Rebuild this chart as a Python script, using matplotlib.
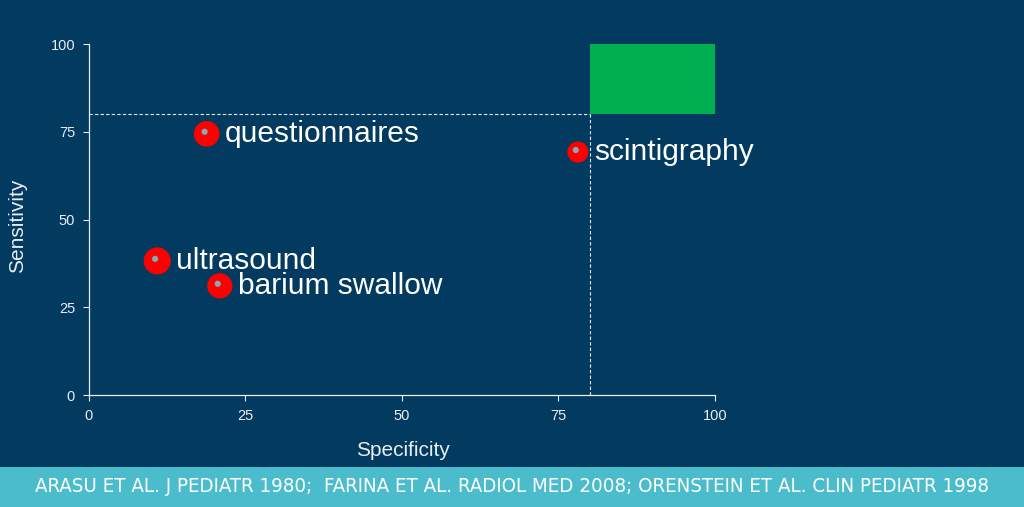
import matplotlib.pyplot as plt
import matplotlib.transforms as mtransforms
from matplotlib.patches import Rectangle

plt.rcParams['font.family'] = ['Liberation Sans', 'DejaVu Sans']

# data
tests = ['questionnaires', 'scintigraphy', 'ultrasound', 'barium swallow']
specificity = [18.8, 78.1, 10.9, 20.9]
sensitivity = [74.4, 69.2, 38.2, 31.1]
marker_size = [340, 230, 380, 330]
ticks = [0, 25, 50, 75, 100]
cutoff = 80
footer = ("ARASU ET AL. J PEDIATR 1980;  FARINA ET AL. RADIOL MED 2008; "
          "ORENSTEIN ET AL. CLIN PEDIATR 1998")

bg = '#033a5f'
fg = '#e8eef2'

fig = plt.figure(figsize=(10.24, 5.07), dpi=100)
fig.patch.set_facecolor(bg)
ax = fig.add_axes([0.0869, 0.2209, 0.6113, 0.6923])
ax.set_facecolor(bg)

ax.set_xlim(0, 100)
ax.set_ylim(0, 100)
ax.set_xticks(ticks)
ax.set_yticks(ticks)
ax.tick_params(colors=fg, labelsize=10.5, length=4, width=0.8, pad=6)
for s in ('top', 'right'):
    ax.spines[s].set_visible(False)
for s in ('left', 'bottom'):
    ax.spines[s].set_color(fg)
    ax.spines[s].set_linewidth(0.9)

# target zone
ax.add_patch(Rectangle((cutoff, cutoff), 100 - cutoff, 100 - cutoff,
                       facecolor='#00b050', edgecolor='none', zorder=1))
ax.plot([0, cutoff], [cutoff, cutoff], ls=(0, (3, 2)), color=fg, lw=0.8, zorder=2)
ax.plot([cutoff, cutoff], [0, cutoff], ls=(0, (3, 2)), color=fg, lw=0.8, zorder=2)

ax.scatter(specificity, sensitivity, s=marker_size, color='#ff0000', zorder=3,
           edgecolors='none')
# small highlight, shifted up-left a little
shift = mtransforms.ScaledTranslation(-1.5 / 72, 1.5 / 72, fig.dpi_scale_trans)
ax.scatter(specificity, sensitivity, s=20, color='#86a9b3', zorder=4,
           edgecolors='none', transform=ax.transData + shift)

for name, x, y, ms in zip(tests, specificity, sensitivity, marker_size):
    off = (ms ** 0.5) / 2 + 4
    ax.annotate(name, (x, y), xytext=(off, 0), textcoords='offset points',
                color='white', fontsize=21.5, va='center', ha='left', zorder=5)

fig.text(403 / 1024, 1 - 451 / 507, 'Specificity', color=fg, fontsize=15,
         ha='center', va='center')
fig.text(18 / 1024, 1 - 226 / 507, 'Sensitivity', color=fg, fontsize=15,
         ha='center', va='center', rotation=90)

# footer band
fig.patches.append(Rectangle((0, 0), 1, 40 / 507, transform=fig.transFigure,
                             facecolor='#4bbccc', edgecolor='none', zorder=0))
fig.text(0.5, 20 / 507, footer, color='white', fontsize=14.7, ha='center',
         va='center', fontstretch='condensed',
         family=['Liberation Sans Narrow', 'DejaVu Sans'])

fig.savefig('out.png', dpi=100, facecolor=bg)
